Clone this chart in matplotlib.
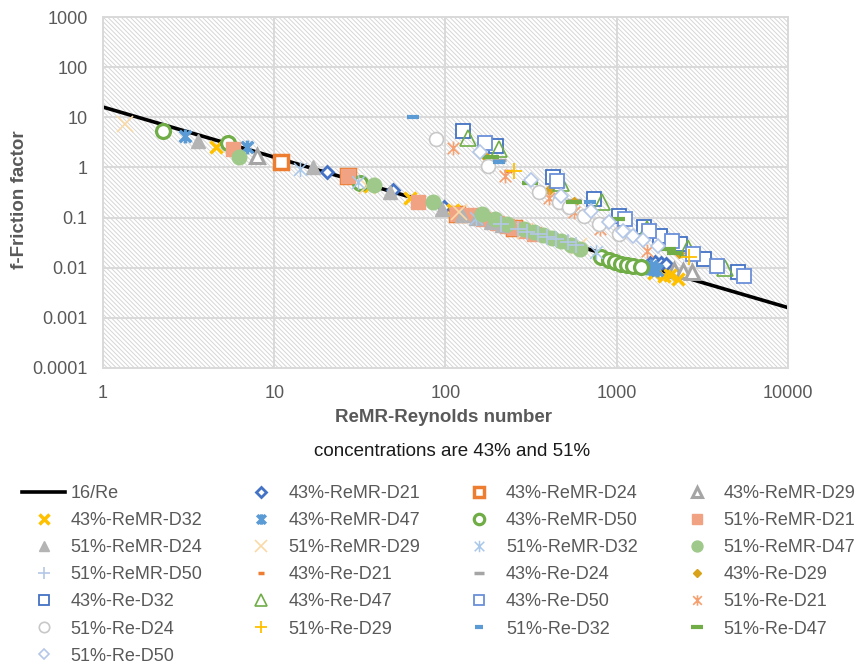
import numpy as np
import matplotlib
matplotlib.use("Agg")
import matplotlib.pyplot as plt
from matplotlib.path import Path
from matplotlib.collections import LineCollection
from matplotlib.ticker import FixedLocator, FixedFormatter, NullLocator

plt.rcParams.update({"font.family": ["Liberation Sans", "DejaVu Sans"]})
GREY_TXT = "#595959"
GRID = "#D9D9D9"

# Excel-style "star" marker: X with a vertical bar
STAR = Path([(-1, -1), (1, 1), (-1, 1), (1, -1), (0, -1.2), (0, 1.2)],
            [Path.MOVETO, Path.LINETO] * 3)

# reference line 16/Re
re_line = [1, 10, 100, 1000, 10000]
f_line = [16, 1.6, 0.16, 0.016, 0.0016]

# ---- 43% ReMR series
re_43m_d21 = [20.4, 49.6, 98, 190, 1560, 1680, 1810, 1950]
f_43m_d21 = [0.80, 0.36, 0.165, 0.085, 0.0125, 0.0128, 0.0126, 0.0121]
re_43m_d24 = [11.0, 27, 117, 250]
f_43m_d24 = [1.26, 0.66, 0.12, 0.063]
re_43m_d29 = [7.9, 2150, 2450, 2750]
f_43m_d29 = [1.7, 0.0088, 0.0086, 0.0083]
re_43m_d32 = [4.6, 36, 62, 110, 1650, 1880, 2050, 2270]
f_43m_d32 = [2.6, 0.42, 0.25, 0.14, 0.0078, 0.0068, 0.0072, 0.0060]
re_43m_d47 = [3.0, 6.95, 1500, 1580, 1640, 1720]
f_43m_d47 = [4.3, 2.5, 0.0098, 0.0107, 0.0095, 0.0090]
re_43m_d50 = [2.24, 5.4, 31.8, 806, 900, 980, 1060, 1150, 1250, 1381]
f_43m_d50 = [5.4, 3.1, 0.5, 0.0162, 0.0140, 0.0128, 0.0120, 0.0113, 0.0108, 0.0103]

# ---- 51% ReMR series
re_51m_d21 = [5.75, 27, 69.5, 117, 140, 165, 200, 230, 250, 290, 330]
f_51m_d21 = [2.3, 0.66, 0.2, 0.12, 0.11, 0.092, 0.077, 0.069, 0.063, 0.055, 0.048]
re_51m_d24 = [3.6, 16.9, 47.7, 96, 125, 150, 185, 215]
f_51m_d24 = [3.3, 1.0, 0.32, 0.146, 0.115, 0.10, 0.082, 0.072]
re_51m_d29 = [1.35, 35, 120, 290, 600]
f_51m_d29 = [7.2, 0.42, 0.13, 0.055, 0.027]
re_51m_d32 = [14.2, 31, 150, 480, 760]
f_51m_d32 = [0.91, 0.52, 0.10, 0.034, 0.021]
re_51m_d47 = [6.2, 38, 85, 164, 195, 230, 286, 330, 373, 420, 470, 540, 614]
f_51m_d47 = [1.65, 0.44, 0.2, 0.116, 0.092, 0.074, 0.0585, 0.051, 0.0445, 0.039, 0.0338, 0.029, 0.0236]
re_51m_d50 = [210, 264, 300, 345, 390, 440, 518, 580]
f_51m_d50 = [0.074, 0.0585, 0.052, 0.0465, 0.041, 0.037, 0.032, 0.028]

# ---- 43% Re series
re_43_d21 = [232, 470, 900]
f_43_d21 = [0.83, 0.30, 0.10]
re_43_d24 = [204, 560, 1300]
f_43_d24 = [1.38, 0.22, 0.045]
re_43_d29 = [172, 400, 560, 2300]
f_43_d29 = [1.6, 0.36, 0.20, 0.020]
re_43_d32 = [126, 196, 423, 733, 1025, 1440, 1800, 2350, 3220, 5100]
f_43_d32 = [5.4, 2.7, 0.63, 0.24, 0.106, 0.064, 0.042, 0.030, 0.0147, 0.0082]
re_43_d47 = [136, 205, 470, 820, 1500, 2600, 4300]
f_43_d47 = [3.9, 2.3, 0.5, 0.2, 0.06, 0.025, 0.010]
re_43_d50 = [171, 450, 1120, 1550, 2090, 2800, 3870, 5550]
f_43_d50 = [3.1, 0.53, 0.095, 0.055, 0.034, 0.019, 0.0107, 0.0069]

# ---- 51% Re series
re_51_d21 = [110, 224, 400, 561, 803, 1508]
f_51_d21 = [2.39, 0.66, 0.25, 0.127, 0.059, 0.0214]
re_51_d24 = [88.6, 178, 350, 460, 524, 640, 786, 1025]
f_51_d24 = [3.77, 1.05, 0.32, 0.20, 0.16, 0.107, 0.074, 0.047]
re_51_d29 = [250, 2640]
f_51_d29 = [0.83, 0.0163]
re_51_d32 = [65, 204, 700]
f_51_d32 = [10.3, 1.3, 0.2]
re_51_d47 = [184, 310, 561, 1000, 1987, 2200]
f_51_d47 = [1.65, 0.5, 0.2, 0.095, 0.0234, 0.02]
re_51_d50 = [160, 314, 471, 705, 899, 1089, 1245, 1415, 1741]
f_51_d50 = [2.0, 0.55, 0.265, 0.133, 0.081, 0.0535, 0.0425, 0.0354, 0.027]

series = [
    ("43%-ReMR-D21", re_43m_d21, f_43m_d21, dict(marker="D", ms=6.5, mfc="white", mec="#4472C4", mew=2)),
    ("43%-ReMR-D24", re_43m_d24, f_43m_d24, dict(marker="s", ms=10, mfc="white", mec="#ED7D31", mew=2.5)),
    ("43%-ReMR-D29", re_43m_d29, f_43m_d29, dict(marker="^", ms=10, mfc="white", mec="#A5A5A5", mew=2.2)),
    ("43%-ReMR-D32", re_43m_d32, f_43m_d32, dict(marker="x", ms=9, mec="#FFC000", mew=2.5)),
    ("43%-ReMR-D47", re_43m_d47, f_43m_d47, dict(marker=STAR, ms=10, mec="#5B9BD5", mew=2.5)),
    ("43%-ReMR-D50", re_43m_d50, f_43m_d50, dict(marker="o", ms=10, mfc="white", mec="#70AD47", mew=2.3)),
    ("51%-ReMR-D21", re_51m_d21, f_51m_d21, dict(marker="s", ms=10, mfc="#F1A283", mec="#F1A283", mew=1)),
    ("51%-ReMR-D24", re_51m_d24, f_51m_d24, dict(marker="^", ms=10, mfc="#B4B4B4", mec="#B4B4B4", mew=1)),
    ("51%-ReMR-D29", re_51m_d29, f_51m_d29, dict(marker="x", ms=11, mec="#FAD9A8", mew=1.2)),
    ("51%-ReMR-D32", re_51m_d32, f_51m_d32, dict(marker=STAR, ms=11, mec="#A9C8EA", mew=1.1)),
    ("51%-ReMR-D47", re_51m_d47, f_51m_d47, dict(marker="o", ms=10.5, mfc="#9FC98A", mec="#9FC98A", mew=1)),
    ("51%-ReMR-D50", re_51m_d50, f_51m_d50, dict(marker="+", ms=12, mec="#B4C7E7", mew=1.2)),
    ("43%-Re-D21", re_43_d21, f_43_d21, dict(marker="_", ms=6, mec="#ED7D31", mew=2.5)),
    ("43%-Re-D24", re_43_d24, f_43_d24, dict(marker="_", ms=10, mec="#A5A5A5", mew=2.5)),
    ("43%-Re-D29", re_43_d29, f_43_d29, dict(marker="D", ms=5, mfc="#D9A21B", mec="#D9A21B", mew=1)),
    ("43%-Re-D32", re_43_d32, f_43_d32, dict(marker="s", ms=10.5, mfc="white", mec="#4472C4", mew=1.3)),
    ("43%-Re-D47", re_43_d47, f_43_d47, dict(marker="^", ms=12, mfc="none", mec="#70AD47", mew=1.2)),
    ("43%-Re-D50", re_43_d50, f_43_d50, dict(marker="s", ms=10.5, mfc="white", mec="#6A8FD8", mew=1.3)),
    ("51%-Re-D21", re_51_d21, f_51_d21, dict(marker=STAR, ms=10, mec="#F4A070", mew=1.2)),
    ("51%-Re-D24", re_51_d24, f_51_d24, dict(marker="o", ms=10, mfc="white", mec="#C8C8C8", mew=1.2)),
    ("51%-Re-D29", re_51_d29, f_51_d29, dict(marker="+", ms=12, mec="#FFC000", mew=1.3)),
    ("51%-Re-D32", re_51_d32, f_51_d32, dict(marker="_", ms=8, mec="#5B9BD5", mew=3)),
    ("51%-Re-D47", re_51_d47, f_51_d47, dict(marker="_", ms=11, mec="#70AD47", mew=3)),
    ("51%-Re-D50", re_51_d50, f_51_d50, dict(marker="D", ms=7, mfc="white", mec="#B4C7E7", mew=1.2)),
]

fig = plt.figure(figsize=(8.62, 6.65), dpi=100)
AXW, AXH = 685, 351   # plot area in pixels
ax = fig.add_axes([103 / 862, 1 - 368 / 665, AXW / 862, AXH / 665])

# dense "\\\\" hatching of the plot area, drawn as thin lines in axes coords
step = 4.5
segs = []
for c in np.arange(0, AXW + AXH, step):
    x0 = c - AXH
    segs.append([(x0 / AXW, 1.0), ((x0 + AXH) / AXW, 0.0)])
hatch = LineCollection(segs, colors="#D6D6D6", linewidths=0.7,
                       transform=ax.transAxes, zorder=0)
hatch.set_clip_path(ax.patch)
ax.add_collection(hatch, autolim=False)

handles = []
h, = ax.plot(re_line, f_line, color="black", lw=2.6, zorder=2, label="16/Re")
handles.append(h)
for i, (name, xs, ys, st) in enumerate(series):
    h, = ax.plot(xs, ys, ls="none", label=name, zorder=3 + i * 0.01, **st)
    handles.append(h)

ax.set_xscale("log"); ax.set_yscale("log")
ax.set_xlim(1, 10000); ax.set_ylim(0.0001, 1000)
xt = [1, 10, 100, 1000, 10000]
yt = [0.0001, 0.001, 0.01, 0.1, 1, 10, 100, 1000]
ax.xaxis.set_major_locator(FixedLocator(xt))
ax.xaxis.set_major_formatter(FixedFormatter(["1", "10", "100", "1000", "10000"]))
ax.yaxis.set_major_locator(FixedLocator(yt))
ax.yaxis.set_major_formatter(FixedFormatter(["0.0001", "0.001", "0.01", "0.1", "1", "10", "100", "1000"]))
ax.xaxis.set_minor_locator(NullLocator()); ax.yaxis.set_minor_locator(NullLocator())
ax.tick_params(length=0, labelsize=13, labelcolor=GREY_TXT)
ax.tick_params(axis="x", pad=12)
ax.tick_params(axis="y", pad=11)
ax.grid(True, color=GRID, lw=1.4, zorder=1)
ax.set_axisbelow(True)
for sp in ax.spines.values():
    sp.set_color(GRID); sp.set_linewidth(1.4)

fig.text(20 / 862, 1 - 200 / 665, "f-Friction factor", rotation=90, ha="center",
         va="center", fontsize=13.5, fontweight="bold", color=GREY_TXT)
fig.text(444 / 862, 1 - 418 / 665, "ReMR-Reynolds number", ha="center", va="center",
         fontsize=13.5, fontweight="bold", color=GREY_TXT)
fig.text(452 / 862, 1 - 452 / 665, "concentrations are 43% and 51%", ha="center",
         va="center", fontsize=13.5, color="#1a1a1a")

# legend filled row by row (Excel order) -> reorder for column-major layout
ncol = 4
order = [i for c in range(ncol) for i in range(c, len(handles), ncol)]
leg = fig.legend([handles[i] for i in order], [handles[i].get_label() for i in order],
                 ncol=ncol, loc="upper left", bbox_to_anchor=(22 / 862, 1 - 485 / 665),
                 frameon=False, fontsize=13, labelcolor=GREY_TXT, borderpad=0,
                 borderaxespad=0, handlelength=2.4, handletextpad=0.3,
                 columnspacing=2.05, labelspacing=0.56, markerscale=0.75)

fig.savefig("out.png", dpi=100)
